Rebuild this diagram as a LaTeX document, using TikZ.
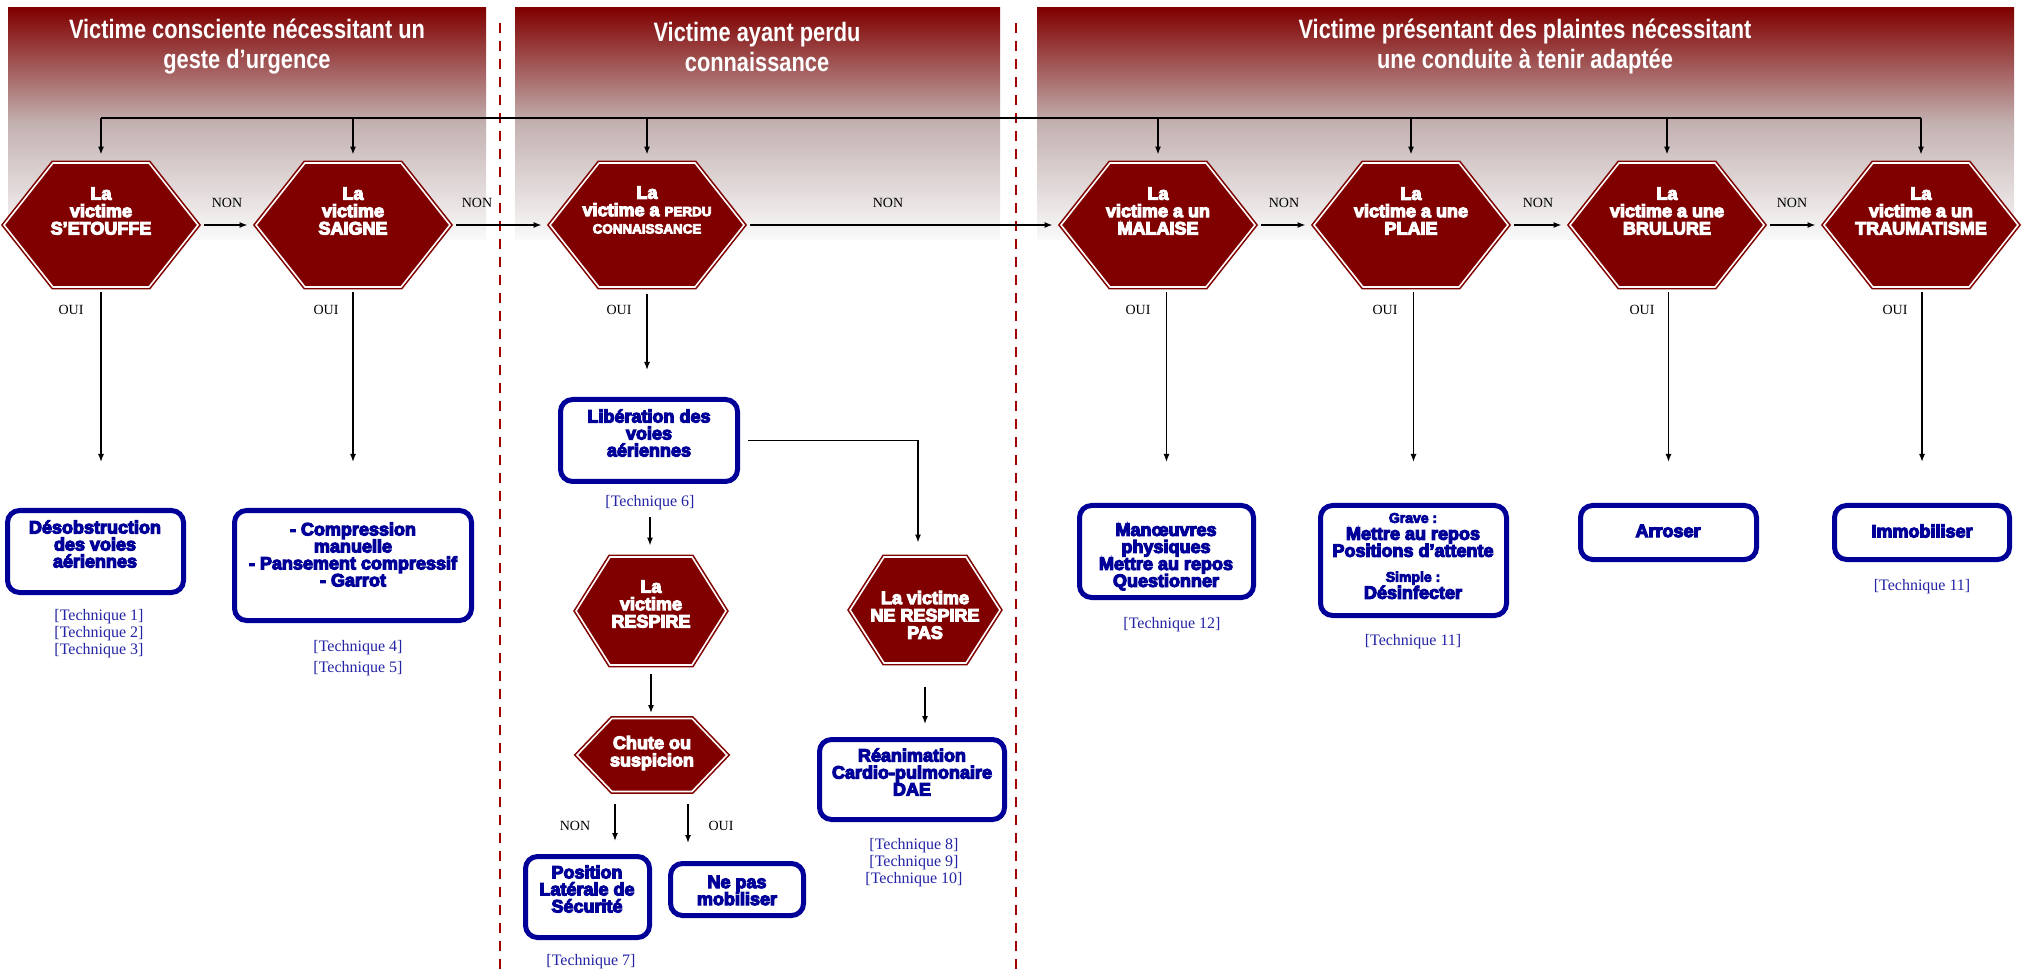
\documentclass[tikz,border=0pt]{standalone}
\usepackage{fontspec}
\setmainfont{Liberation Serif}
\newfontfamily\hdfont{Liberation Sans}[FakeStretch=0.82]
\newfontfamily\blk{Liberation Sans}[FakeBold=6]
\usetikzlibrary{arrows.meta,calc}
\definecolor{maroonc}{RGB}{128,0,0}
\definecolor{midc}{RGB}{196,178,178}
\definecolor{lowc}{RGB}{250,250,250}
\definecolor{navyc}{RGB}{0,0,153}
\definecolor{techc}{RGB}{35,35,165}
\definecolor{dashc}{RGB}{165,0,0}
\tikzset{
  hdr/.style={top color=maroonc, bottom color=lowc, middle color=midc},
  hdrtxt/.style={text=white, align=center, font=\hdfont\bfseries\fontsize{13.3}{15}\selectfont, inner sep=0pt},
  sep/.style={draw=dashc, line width=1pt, dash pattern=on 5pt off 4pt},
  hexshape/.style={fill=maroonc, draw=maroonc, line width=0.8pt, double=white, double distance=0.8pt},
  hexarea/.style={draw=none, inner sep=0pt},
  hextxt/.style={text=white, align=center, font=\blk\bfseries\fontsize{9}{8.7}\selectfont, inner sep=0pt},
  bbox/.style={draw=navyc, line width=2.5pt, rounded corners=6pt, fill=white, inner sep=0pt},
  btxt/.style={text=navyc, align=center, font=\blk\bfseries\fontsize{9}{8.5}\selectfont, inner sep=0pt},
  tech/.style={text=techc, align=center, font=\fontsize{8}{8.5}\selectfont, inner sep=1pt},
  lbl/.style={font=\fontsize{7}{8}\selectfont, inner sep=0pt},
  arr/.style={-{Latex[length=4pt,width=3pt]}, line width=0.7pt},
  busline/.style={line width=1pt},
}
% name, cx, cy, half width, half height, chamfer
\newcommand\hexnode[6]{%
  \draw[hexshape] (#2-#4,#3) -- ++(#6,-#5) -- ++({2*#4-2*#6},0) -- ++(#6,#5) -- ++(-#6,#5) -- ++({2*#6-2*#4},0) -- cycle;
  \node[hexarea, minimum width=#4pt, minimum height=#5pt] (#1) at (#2,#3) {};
}
\begin{document}
\begin{tikzpicture}[x=0.5pt,y=-0.5pt]
\useasboundingbox (0,0) rectangle (2022,972);
% header bands
\shade[hdr] (8,8) rectangle (486,240);
\shade[hdr] (515,8) rectangle (1000,240);
\shade[hdr] (1037,8) rectangle (2014,240);
\node[hdrtxt] (ht1) at (247,47) {Victime consciente nécessitant un\\geste d’urgence};
\node[hdrtxt] (ht2) at (757,47) {Victime ayant perdu\\connaissance};
\node[hdrtxt] (ht3) at (1525,47) {Victime présentant des plaintes nécessitant\\une conduite à tenir adaptée};
% separators
\draw[sep] (500,23) -- (500,972);
\draw[sep] (1016,23) -- (1016,972);
% row of hexagons
\hexnode{h1}{101}{225}{97}{62}{49}
\hexnode{h2}{353}{225}{97}{62}{49}
\hexnode{h3}{647}{225}{97}{62}{49}
\hexnode{h4}{1158}{225}{97}{62}{49}
\hexnode{h5}{1411}{225}{97}{62}{49}
\hexnode{h6}{1667}{225}{97}{62}{49}
\hexnode{h7}{1921}{225}{97}{62}{49}
\node[hextxt] at (101,211) {La\\victime\\S’ETOUFFE};
\node[hextxt] at (353,211) {La\\victime\\SAIGNE};
\node[hextxt] at (647,210) {La\\victime a {\fontsize{6.7}{8}\selectfont PERDU}\\{\fontsize{6.7}{8}\selectfont CONNAISSANCE}};
\node[hextxt] at (1158,211) {La\\victime a un\\MALAISE};
\node[hextxt] at (1411,211) {La\\victime a une\\PLAIE};
\node[hextxt] at (1667,211) {La\\victime a une\\BRULURE};
\node[hextxt] at (1921,211) {La\\victime a un\\TRAUMATISME};
% bus
\coordinate (bus) at (0,118);
\draw[busline] (h1.north |- bus) -- (h7.north |- bus);
\foreach \h in {h1,h2,h3,h4,h5,h6,h7}{
  \draw[arr] (\h.north |- bus) -- ([yshift=4pt]\h.north);
}
% NON arrows
\foreach \a/\b in {h1/h2,h2/h3,h3/h4,h4/h5,h5/h6,h6/h7}{
  \draw[arr, line width=0.9pt, shorten <=3pt, shorten >=4pt] (\a.east) -- (\b.west);
}
\foreach \x in {227,477,888,1284,1538,1792}{
  \node[lbl] at (\x,203) {NON};
}
% outcome boxes row 1
\node[bbox, minimum width=88pt, minimum height=41pt] (bA) at (95.5,551.5) {};
\node[btxt] at (95,544) {Désobstruction\\des voies\\aériennes};
\node[bbox, minimum width=118.5pt, minimum height=55pt] (bB) at (353,565.5) {};
\node[btxt] at (353,554.5) {- Compression\\manuelle\\- Pansement compressif\\- Garrot};
\node[bbox, minimum width=87pt, minimum height=46pt] (bM) at (1166.5,551.5) {};
\node[btxt] at (1166,557) {Manœuvres\\physiques\\Mettre au repos\\Questionner};
\node[bbox, minimum width=93pt, minimum height=55pt] (bG) at (1413.5,560.5) {};
\node[btxt] at (1413,556) {{\fontsize{7}{8}\selectfont Grave :}\\Mettre au repos\\Positions d’attente\\[4pt]{\fontsize{7}{8}\selectfont Simple :}\\Désinfecter};
\node[bbox, minimum width=88pt, minimum height=27pt] (bAr) at (1668.5,532.5) {};
\node[btxt] at (1668,531) {Arroser};
\node[bbox, minimum width=87.5pt, minimum height=27pt] (bIm) at (1922,532.5) {};
\node[btxt] at (1922,531) {Immobiliser};
% OUI arrows row 1
\draw[arr, shorten <=2.5pt, shorten >=23pt] (h1.south) -- (h1.south |- bA.north);
\draw[arr, shorten <=2.5pt, shorten >=23pt] (h2.south) -- (h2.south |- bB.north);
\draw[arr, shorten <=2.5pt, shorten >=20.5pt] (bM.north |- h4.south) -- (bM.north);
\draw[arr, shorten <=2.5pt, shorten >=20.5pt] (bG.north |- h5.south) -- (bG.north);
\draw[arr, shorten <=2.5pt, shorten >=20.5pt] (bAr.north |- h6.south) -- (bAr.north);
\draw[arr, shorten <=2.5pt, shorten >=20.5pt] (bIm.north |- h7.south) -- (bIm.north);
\foreach \x in {71,326,619,1138,1385,1642,1895}{
  \node[lbl] at (\x,310) {OUI};
}
% techniques row 1
\node[tech] (tA) at (99,634) {{[Technique 1]}\\{[Technique 2]}\\{[Technique 3]}};
\node[tech, font=\fontsize{8}{10.5}\selectfont] (tB) at (358,658.5) {{[Technique 4]}\\{[Technique 5]}};
\node[tech] (tM) at (1172,625) {{[Technique 12]}};
\node[tech] (tG) at (1413,642) {{[Technique 11]}};
\node[tech] (tIm) at (1922,587) {{[Technique 11]}};
% middle column
\node[bbox, minimum width=88.5pt, minimum height=41pt] (bC) at (649,440.5) {};
\node[btxt] at (649,433) {Libération des\\voies\\aériennes};
\draw[arr, shorten <=3.5pt, shorten >=13.5pt] (h3.south) -- (h3.south |- bC.north);
\node[tech] (t6) at (650,503) {{[Technique 6]}};
\hexnode{hR}{651}{611}{75}{54}{34}
\node[hextxt] at (651,604) {La\\victime\\RESPIRE};
\hexnode{hN}{925}{610}{75}{53}{34}
\node[hextxt] at (925,615) {La victime\\NE RESPIRE\\PAS};
\hexnode{hC}{652}{755}{75}{36.5}{35}
\node[hextxt] at (652,753) {Chute ou\\suspicion};
\draw[arr, shorten <=2pt, shorten >=5.5pt] (t6.south) -- (t6.south |- hR.north);
\draw[arr] ([xshift=4pt]bC.east) -| ([xshift=-3.5pt,yshift=7pt]hN.north);
\draw[arr, shorten <=4.5pt, shorten >=2.5pt] (hR.south) -- (hR.south |- hC.north);
\node[bbox, minimum width=62pt, minimum height=40.5pt] (bP) at (587.5,897) {};
\node[btxt] at (587,889) {Position\\Latérale de\\Sécurité};
\node[bbox, minimum width=66.5pt, minimum height=26pt] (bN) at (737,889.5) {};
\node[btxt] at (737,890.5) {Ne pas\\mobiliser};
\draw[arr, shorten <=6pt, shorten >=6.5pt] ([xshift=-18.5pt]hC.south) -- ([xshift=-18.5pt]hC.south |- bP.north);
\draw[arr, shorten <=6pt, shorten >=9pt] ([xshift=18pt]hC.south) -- ([xshift=18pt]hC.south |- bN.north);
\node[lbl] at (575,826) {NON};
\node[lbl] at (721,826) {OUI};
\node[tech] (t7) at (591,962) {{[Technique 7]}};
\node[bbox, minimum width=92.5pt, minimum height=40pt] (bR) at (912,779.5) {};
\node[btxt] at (912,772) {Réanimation\\Cardio-pulmonaire\\DAE};
\draw[arr, shorten <=12pt, shorten >=6.5pt] (hN.south) -- (hN.south |- bR.north);
\node[tech] (t8) at (914,863) {{[Technique 8]}\\{[Technique 9]}\\{[Technique 10]}};
\end{tikzpicture}
\end{document}
